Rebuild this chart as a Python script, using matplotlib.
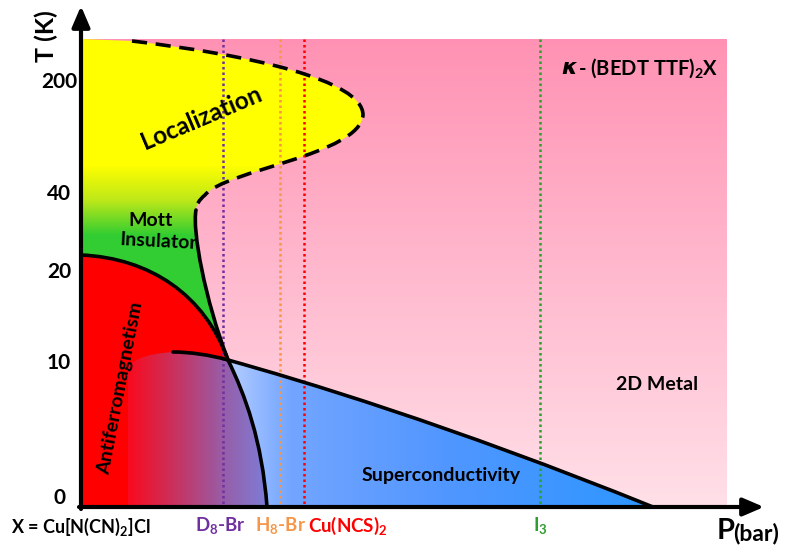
import numpy as np
import matplotlib
matplotlib.use('Agg')
import matplotlib.pyplot as plt
from matplotlib.path import Path
from matplotlib.patches import PathPatch

plt.rcParams['font.family'] = ['Lato', 'DejaVu Sans']
plt.rcParams['font.weight'] = 'bold'
plt.rcParams['mathtext.fontset'] = 'custom'
plt.rcParams['mathtext.rm'] = 'Lato:bold'
plt.rcParams['mathtext.it'] = 'Lato:bold:italic'
plt.rcParams['mathtext.bf'] = 'Lato:bold'

# phase boundaries (P, T in drawing units of the sketch), as cubic Bezier chains
dashed_ctrl = [(132, 41), (250, 55), (363, 80), (363, 115),
               (360, 155), (225, 170), (205, 195),
               (199, 200), (196, 205), (196, 210)]
mott_ctrl = [(196, 210), (192, 230), (205, 300), (228, 360)]
steep_ctrl = [(228, 360), (245, 395), (262, 440), (267, 507)]
afm_ctrl = [(81, 255), (150, 258), (205, 295), (228, 360)]
sc_ctrl = [(173, 352), (190, 352), (210, 355), (228, 360),
           (300, 380), (450, 425), (653, 507)]

# axis frame
p0, p_end, p_arrow = 81, 727, 764
t0, t_top, t_arrow = 507, 39, 6

t_labels = ['0', '10', '20', '40', '200']
t_pos = [498, 363, 272, 194, 82]

samples = ['D$\\mathregular{_8}$-Br', 'H$\\mathregular{_8}$-Br', 'Cu(NCS)$\\mathregular{_2}$', 'I$\\mathregular{_3}$']
sample_p = [223, 280, 304, 540]
sample_label_p = [220, 281, 348, 540]
sample_colors = ['#7030A0', '#F79646', '#FF0000', '#2E9E2E']


def curve(pts, start=True):
    verts = list(pts) if start else list(pts[1:])
    codes = ([Path.MOVETO] if start else []) + [Path.CURVE4] * (len(pts) - 1)
    return verts, codes


def build(parts):
    verts, codes = [], []
    for v, c in parts:
        verts += v
        codes += c
    return Path(verts, codes)


def rev(pts):
    return list(pts)[::-1]


def grad_img(ax, stops_pos, stops_col, extent, vertical, clip, z):
    n = 400
    x0, x1, y1, y0 = extent
    if vertical:
        coord = np.linspace(y0, y1, n)
    else:
        coord = np.linspace(x0, x1, n)
    cols = np.array(stops_col) / 255.0
    rgb = np.stack([np.interp(coord, stops_pos, cols[:, k]) for k in range(3)], axis=-1)
    if vertical:
        img = np.repeat(rgb[:, None, :], 2, axis=1)
    else:
        img = np.repeat(rgb[None, :, :], 2, axis=0)
    im = ax.imshow(img, extent=extent, origin='upper', aspect='auto', zorder=z,
                   interpolation='bilinear')
    patch = PathPatch(clip, transform=ax.transData, facecolor='none', edgecolor='none')
    ax.add_patch(patch)
    im.set_clip_path(patch)


fig = plt.figure(figsize=(7.92, 5.48), dpi=100)
ax = fig.add_axes([0, 0, 1, 1])

# pink metal background
pink_clip = Path([(p0, t_top), (p_end, t_top), (p_end, t0), (p0, t0), (p0, t_top)])
grad_img(ax, [t_top, t0], [(255, 146, 180), (255, 224, 232)],
         (p0, p_end, t0, t_top), True, pink_clip, 1)

# localization / Mott insulator region
yg_clip = build([([(p0, t_top), (132, 41)], [Path.MOVETO, Path.LINETO]),
                 curve(dashed_ctrl, False), curve(mott_ctrl, False), curve(steep_ctrl, False),
                 ([(p0, t0), (p0, t_top)], [Path.LINETO, Path.CLOSEPOLY])])
grad_img(ax, [t_top, 165, 200, 235, t0],
         [(255, 255, 0), (255, 255, 0), (190, 232, 25), (50, 205, 50), (50, 205, 50)],
         (p0, 400, t0, t_top), True, yg_clip, 2)

# antiferromagnet
afm_path = build([curve(afm_ctrl), curve(steep_ctrl, False),
                  ([(p0, t0), (p0, 255)], [Path.LINETO, Path.CLOSEPOLY])])
ax.add_patch(PathPatch(afm_path, facecolor='#FF0000', edgecolor='none', zorder=3))

# superconducting dome, left of the Mott line
scl_clip = build([([(128, t0), (128, 372)], [Path.MOVETO, Path.LINETO]),
                  ([(128, 360), (145, 354), (173, 352)], [Path.CURVE4] * 3),
                  curve(sc_ctrl[:4], False), curve(steep_ctrl, False),
                  ([(128, t0)], [Path.CLOSEPOLY])])
grad_img(ax, [128, 175, 225, 267],
         [(250, 10, 30), (200, 50, 95), (150, 95, 170), (125, 125, 215)],
         (128, 267, t0, 350), False, scl_clip, 4)

# superconducting dome, right of the Mott line
scr_clip = build([curve(sc_ctrl[3:]), ([(267, t0)], [Path.LINETO]),
                  curve(rev(steep_ctrl), False), ([(228, 360)], [Path.CLOSEPOLY])])
grad_img(ax, [228, 290, 450, 653],
         [(180, 205, 255), (115, 165, 255), (80, 150, 255), (45, 150, 255)],
         (228, 653, t0, 355), False, scr_clip, 4)

# sample lines
for p, c in zip(sample_p, sample_colors):
    ax.plot([p, p], [t_top, t0], color=c, lw=1.8, linestyle=(0, (1, 1.2)), zorder=5)

# boundaries
for ctrl in [mott_ctrl, steep_ctrl, afm_ctrl, sc_ctrl]:
    ax.add_patch(PathPatch(build([curve(ctrl)]), facecolor='none', edgecolor='black',
                           lw=2.6, zorder=6, capstyle='round'))
ax.add_patch(PathPatch(build([curve(dashed_ctrl)]), facecolor='none', edgecolor='black',
                       lw=2.6, linestyle=(0, (4.2, 2.4)), zorder=6))

# axes with arrows
ax.annotate('', xy=(p0, t_arrow), xytext=(p0, t0 + 2),
            arrowprops=dict(arrowstyle='-|>,head_length=0.7,head_width=0.3', lw=3,
                            color='black', mutation_scale=18, shrinkA=0, shrinkB=0), zorder=7)
ax.annotate('', xy=(p_arrow, t0), xytext=(p0 - 2, t0),
            arrowprops=dict(arrowstyle='-|>,head_length=0.7,head_width=0.3', lw=3,
                            color='black', mutation_scale=18, shrinkA=0, shrinkB=0), zorder=7)

# texts
ax.text(46, 36, 'T (K)', rotation=90, ha='center', va='center', fontsize=18)
for lab, y in zip(t_labels, t_pos):
    ax.text(59, y, lab, ha='center', va='center', fontsize=15)
ax.text(11, 527, 'X = Cu[N(CN)$\\mathregular{_2}$]Cl', ha='left', va='center', fontsize=13)
for lab, p, c in zip(samples, sample_label_p, sample_colors):
    ax.text(p, 526, lab, ha='center', va='center', fontsize=13.5, color=c)
ax.text(717, 531, 'P', ha='left', va='center', fontsize=21)
ax.text(733, 533, '(bar)', ha='left', va='center', fontsize=16.5)

ax.text(561, 68, '\u03ba', ha='left', va='center', fontsize=16, style='italic',
        family='DejaVu Sans', zorder=8)
ax.text(578, 68, '- (BEDT TTF)$\\mathregular{_2}$X', ha='left', va='center', fontsize=14.5, zorder=8)

ax.text(201, 118, 'Localization', rotation=23, ha='center', va='center', fontsize=17.5, zorder=8)
ax.text(151, 220, 'Mott', ha='center', va='center', fontsize=14, zorder=8)
ax.text(158, 242, 'Insulator', ha='center', va='center', fontsize=14, rotation=-3, zorder=8)
ax.text(121, 388, 'Antiferromagnetism', rotation=79, ha='center', va='center', fontsize=14, zorder=8)
ax.text(441, 476, 'Superconductivity', ha='center', va='center', fontsize=14, zorder=8)
ax.text(657, 385, '2D Metal', ha='center', va='center', fontsize=14, zorder=8)

ax.set_xlim(0, 792)
ax.set_ylim(548, 0)
ax.axis('off')
fig.savefig('out.png', dpi=100, facecolor='white')
